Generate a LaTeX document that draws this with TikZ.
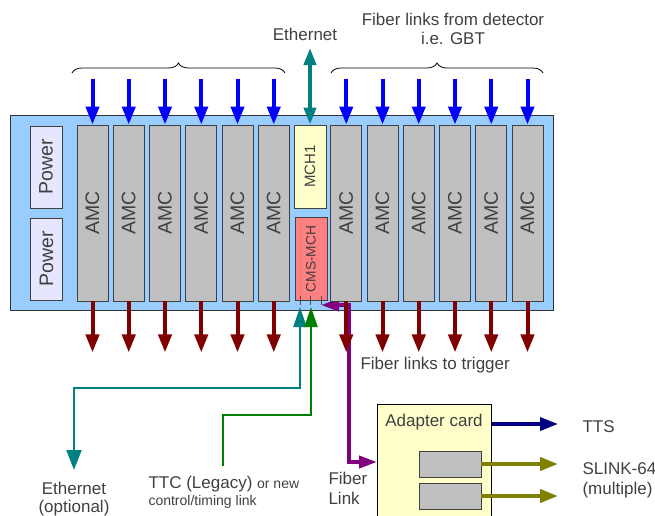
\documentclass[tikz,border=0pt]{standalone}
\usepackage{fontspec}
\setmainfont{Liberation Sans}
\usepackage{graphicx}
\usepackage{xcolor}
\usetikzlibrary{arrows.meta, decorations.pathreplacing, calc}

\definecolor{txtgray}{HTML}{404040}
\definecolor{crateblue}{HTML}{99CCFF}
\definecolor{slotgray}{HTML}{C0C0C0}
\definecolor{powerlav}{HTML}{E6E6FF}
\definecolor{mchyellow}{HTML}{FFFFCC}
\definecolor{mchred}{HTML}{FF8080}
\definecolor{linkblue}{HTML}{0000FF}
\definecolor{linkred}{HTML}{800000}
\definecolor{ethteal}{HTML}{008080}
\definecolor{ttcgreen}{HTML}{008000}
\definecolor{trigpurple}{HTML}{800080}
\definecolor{ttsnavy}{HTML}{000080}
\definecolor{slinkolive}{HTML}{808000}

\begin{document}
\begin{tikzpicture}[
    x=1pt, y=-1pt,
    font=\fontsize{17}{19}\selectfont, text=txtgray,
    crate/.style={
        rectangle, draw=black!80, line width=1.3pt, fill=crateblue,
        minimum width=543pt, minimum height=195pt, inner sep=0pt
    },
    slot/.style={
        rectangle, draw=black!75, line width=0.9pt, fill=slotgray,
        minimum width=31pt, minimum height=176pt, inner sep=0pt,
        font=\fontsize{19.5}{20}\selectfont
    },
    power/.style={
        rectangle, draw=black!75, line width=0.9pt, fill=powerlav,
        minimum width=32pt, minimum height=82pt, inner sep=0pt,
        font=\fontsize{19.5}{20}\selectfont
    },
    mch/.style={
        rectangle, draw=black!75, line width=0.9pt,
        minimum width=32pt, minimum height=83pt, inner sep=0pt
    },
    card/.style={
        rectangle, draw=black, line width=0.9pt, fill=mchyellow,
        minimum width=114pt, minimum height=140pt, inner sep=0pt
    },
    subcard/.style={
        rectangle, draw=black!75, line width=0.9pt, fill=slotgray,
        minimum width=62pt, minimum height=26pt, inner sep=0pt
    },
    small/.style={font=\fontsize{14}{16}\selectfont},
    bigtip/.style={Triangle[width=13pt, length=18pt]},
    inlink/.style={draw=linkblue, line width=4pt, -{Triangle[width=13pt, length=18pt]}},
    outlink/.style={draw=linkred, line width=4pt, -{Triangle[width=13pt, length=18pt]}},
    ethlink/.style={draw=ethteal, line width=4pt,
        {Triangle[width=12pt, length=17pt]}-{Triangle[width=12pt, length=17pt]}},
    ethopt/.style={draw=ethteal, line width=2pt,
        {Triangle[width=13pt, length=20pt]}-{Triangle[width=15pt, length=20pt]}},
    ttclink/.style={draw=ttcgreen, line width=2pt, -{Triangle[width=13pt, length=20pt]}},
    triglink/.style={draw=trigpurple, line width=4pt,
        {Triangle[width=12pt, length=18pt]}-{Triangle[width=12pt, length=18pt]}},
    ttslink/.style={draw=ttsnavy, line width=3.5pt, -{Triangle[width=13pt, length=18pt]}},
    slink/.style={draw=slinkolive, line width=4pt, -{Triangle[width=13pt, length=18pt]}},
    pin/.style={draw=black!70, line width=0.9pt},
    fiberbrace/.style={draw=black, line width=0.8pt,
        decorate, decoration={brace, amplitude=10pt}}
]
\clip (0,0) rectangle (655,515);

% 1. Crate with power modules and MCHs
\node[crate, anchor=north west] (crate) at (10,115) {};
\node[power] (power1) at (46,167) {\rotatebox{90}{Power}};
\node[power] (power2) at (46.5,259) {\rotatebox{90}{Power}};
\node[mch, fill=mchyellow, font=\fontsize{15}{16}\selectfont] (mch1) at (310,166.5) {\rotatebox{90}{MCH1}};
\node[mch, fill=mchred, font=\fontsize{13.7}{15}\selectfont] (cmsmch) at (311,259) {\rotatebox{90}{CMS-MCH}};

% connector pins under the CMS-MCH
\foreach \px in {300,310.5,321}
    \draw[pin] (\px,296) -- (\px,305);

% 2. Adapter card (bottom right)
\node[card, anchor=north west] (adapter) at (377,404) {};
\node (adlbl) at (434,422) {Adapter card};
\node[subcard] (slink1) at (450,464) {};
\node[subcard] (slink2) at (450,496) {};

% 3. Links from the CMS-MCH
\coordinate (trigpin) at (321,305);
\coordinate (trigend) at (377,462);
\draw[triglink] (trigpin) -| (349,462) -- (trigend);

\coordinate (ethpin) at (300,307);
\coordinate (ethend) at (74,470);
\draw[ethopt] (ethpin) |- (74,388) -- (ethend);

\coordinate (ttcstart) at (223,466);
\coordinate (ttcpin) at (311,307);
\draw[ttclink] (ttcstart) |- (311,415) -- (ttcpin);

% 4. AMC slots with fiber links in and out
\foreach \i in {0,...,5,7,8,9,10,11,12} {
    \node[slot] (amc\i) at ({92.5+36.25*\i},213) {\rotatebox{90}{AMC}};
    \draw[inlink] ($(amc\i.north)+(0,-46)$) -- (amc\i.north);
    \draw[outlink] (amc\i.south) -- ($(amc\i.south)+(0,51)$);
}

% Ethernet to the MCH1
\coordinate (ethtop) at (310,48);
\draw[ethlink] (mch1.north) -- (ethtop);
\node (ethlbl) at (305,34) {Ethernet};

% braces over the fiber inputs
\draw[fiberbrace] (72,73) -- (285,73);
\draw[fiberbrace] (331,73) -- (543,73);
\node[align=center] (fiberin) at (453,29) {Fiber links from detector\\i.e. GBT};

% 5. Outputs of the adapter card
\coordinate (ttsend) at (558,424);
\draw[ttslink] (adapter.east |- ttsend) -- (ttsend);
\draw[slink] (slink1.east) -- (slink1.east -| ttsend);
\draw[slink] (slink2.east) -- (slink2.east -| ttsend);

% 6. Labels
\node[anchor=west] (fiberout) at (357,365) {Fiber links to trigger};
\node[anchor=west] (ttslbl) at (579,427) {TTS};
\node[anchor=west, align=left, font=\fontsize{17}{20}\selectfont] (slinklbl) at (579,480) {SLINK-64\\(multiple)};
\node[anchor=west, align=left, font=\fontsize{17}{20}\selectfont] (fiberlink) at (325,488) {Fiber\\Link};
\node[align=center, font=\fontsize{17}{18}\selectfont] (ethopt) at (74,499) {Ethernet\\(optional)};
\node[anchor=west, align=left] (ttclbl) at (145,492)
    {TTC (Legacy) {\fontsize{14}{16}\selectfont or new}\\[-2pt]{\fontsize{14}{16}\selectfont control/timing link}};

\end{tikzpicture}
\end{document}
